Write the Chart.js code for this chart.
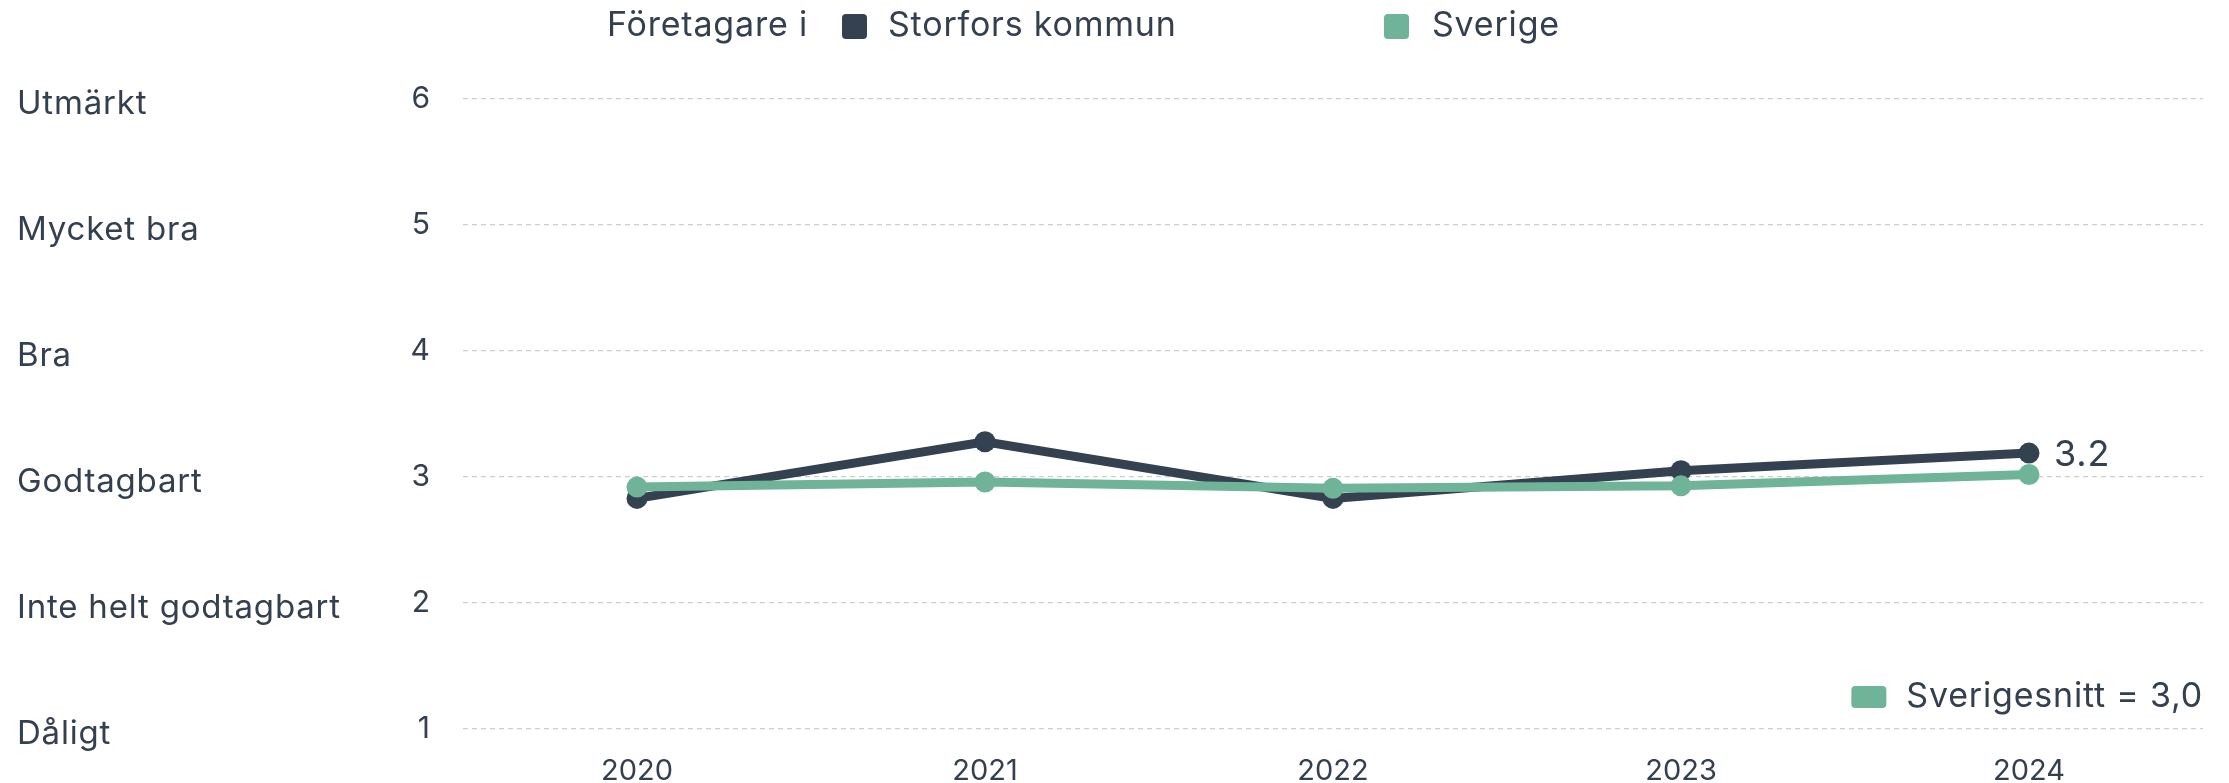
<!DOCTYPE html>
<html>
<head>
<meta charset="utf-8">
<script src="https://cdn.jsdelivr.net/npm/chart.js@4/dist/chart.umd.min.js"></script>
<style>
  html, body { margin: 0; padding: 0; background: #ffffff; }
  #wrap { width: 2229px; height: 783px; }
</style>
</head>
<body>
<div id="wrap"><canvas id="trendChart" width="2229" height="783"></canvas></div>
<script>
const years = ['2020', '2021', '2022', '2023', '2024'];
const storforsValues = [2.83, 3.28, 2.83, 3.05, 3.19];
const sverigeValues = [2.92, 2.96, 2.91, 2.93, 3.02];
const gradeNames = ['Dåligt', 'Inte helt godtagbart', 'Godtagbart', 'Bra', 'Mycket bra', 'Utmärkt'];
const gradeTicks = [1, 2, 3, 4, 5, 6];
const swedenAverage = 3.0;

const darkColor = '#344150';
const greenColor = '#6fb498';
const textColor = '#34404f';
const fontFamily = 'Inter, "Noto Sans", sans-serif';

const roundRect = (ctx, x, y, w, h, r) => {
    ctx.beginPath();
    ctx.moveTo(x + r, y);
    ctx.arcTo(x + w, y, x + w, y + h, r);
    ctx.arcTo(x + w, y + h, x, y + h, r);
    ctx.arcTo(x, y + h, x, y, r);
    ctx.arcTo(x, y, x + w, y, r);
    ctx.closePath();
    ctx.fill();
};

const labelsPlugin = {
    id: 'labelsPlugin',
    afterDraw(chart) {
        const ctx = chart.ctx;
        const yScale = chart.scales.y;
        const area = chart.chartArea;
        ctx.save();
        ctx.fillStyle = textColor;
        ctx.letterSpacing = '0.8px';

        // grade names on the left
        ctx.font = '33px ' + fontFamily;
        ctx.textAlign = 'left';
        ctx.textBaseline = 'middle';
        gradeTicks.forEach((v, i) => {
            ctx.fillText(gradeNames[i], 17, yScale.getPixelForValue(v) + 5);
        });

        // top legend
        ctx.font = '34px ' + fontFamily;
        ctx.fillText('Företagare i', 607, 26);
        ctx.fillStyle = darkColor;
        roundRect(ctx, 842, 14, 25, 25, 4);
        ctx.fillStyle = textColor;
        ctx.fillText('Storfors kommun', 888, 26);
        ctx.fillStyle = greenColor;
        roundRect(ctx, 1384, 14, 25, 25, 4);
        ctx.fillStyle = textColor;
        ctx.fillText('Sverige', 1432, 26);

        // value label at the last point
        const meta = chart.getDatasetMeta(1);
        const last = meta.data[meta.data.length - 1];
        ctx.font = '36px ' + fontFamily;
        ctx.fillText(storforsValues[storforsValues.length - 1].toFixed(1), last.x + 25, last.y + 2);

        // Sverigesnitt legend bottom right
        ctx.font = '34px ' + fontFamily;
        ctx.textAlign = 'right';
        const avgText = 'Sverigesnitt = ' + swedenAverage.toFixed(1).replace('.', ',');
        ctx.fillText(avgText, area.right, 697);
        const w = ctx.measureText(avgText).width;
        ctx.fillStyle = greenColor;
        roundRect(ctx, area.right - w - 55, 686, 35, 22, 4);
        ctx.restore();
    }
};

new Chart(document.getElementById('trendChart').getContext('2d'), {
    type: 'line',
    data: {
        labels: years,
        datasets: [
            {
                label: 'Sverige',
                data: sverigeValues,
                borderColor: greenColor,
                backgroundColor: greenColor,
                borderWidth: 9,
                pointRadius: 10.5,
                pointBorderWidth: 0,
                pointBackgroundColor: greenColor,
                tension: 0,
                order: 1
            },
            {
                label: 'Storfors kommun',
                data: storforsValues,
                borderColor: darkColor,
                backgroundColor: darkColor,
                borderWidth: 9,
                pointRadius: 10.5,
                pointBorderWidth: 0,
                pointBackgroundColor: darkColor,
                tension: 0,
                order: 2
            }
        ]
    },
    options: {
        responsive: false,
        animation: false,
        layout: { padding: { top: 99, right: 26, bottom: 0, left: 0 } },
        plugins: {
            legend: { display: false },
            tooltip: { enabled: false },
            title: { display: false }
        },
        scales: {
            x: {
                type: 'category',
                offset: true,
                grid: { display: false, drawTicks: false },
                border: { display: false },
                ticks: {
                    padding: 25,
                    color: textColor,
                    font: { family: fontFamily, size: 29 }
                },
                afterFit: (scale) => { scale.height = 54; }
            },
            y: {
                min: 1,
                max: 6,
                grid: { color: '#cdcdcd', lineWidth: 1.2, drawTicks: false },
                border: { display: false, dash: [5, 4] },
                ticks: {
                    stepSize: 1,
                    padding: 33,
                    color: textColor,
                    font: { family: fontFamily, size: 30 }
                },
                afterFit: (scale) => { scale.width = 463; }
            }
        }
    },
    plugins: [labelsPlugin]
});
</script>
</body>
</html>
